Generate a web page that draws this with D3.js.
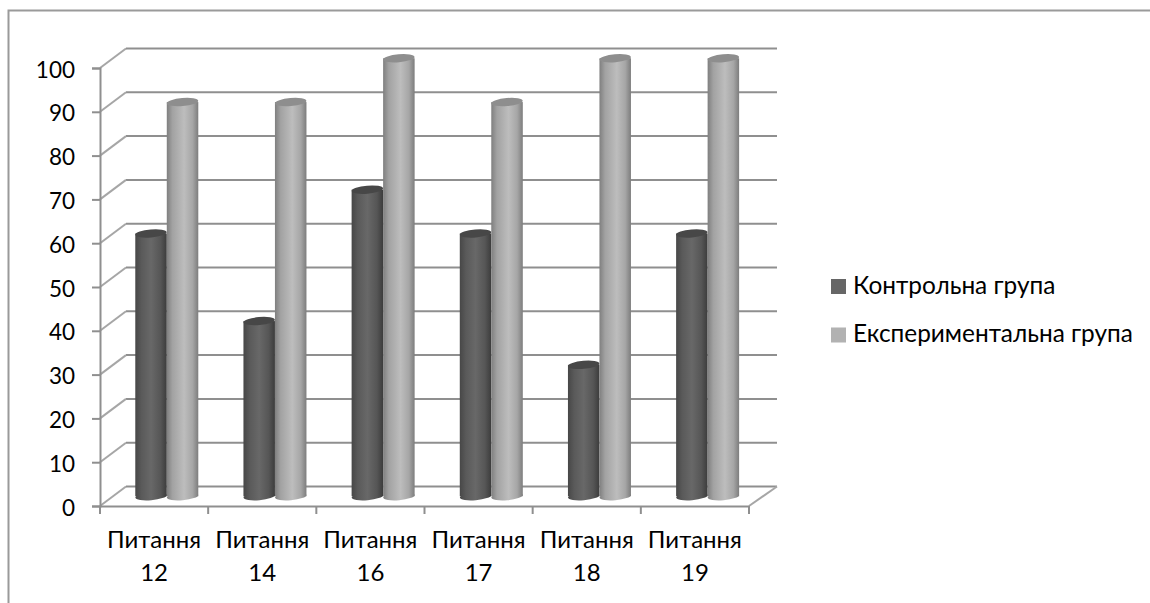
<!DOCTYPE html>
<html>
<head>
<meta charset="utf-8">
<script src="https://cdnjs.cloudflare.com/ajax/libs/d3/7.8.5/d3.min.js"></script>
<style>
html,body{margin:0;padding:0;background:#fff;}
svg{display:block;}
text{font-family:Lato,"Noto Sans",sans-serif;fill:#000;}
</style>
</head>
<body>
<div id="chart"></div>
<script>
const categories = ["12","14","16","17","18","19"];
const questionWord = "Питання";
const seriesNames = ["Контрольна група","Експериментальна група"];
const controlValues = [60,40,70,60,30,60];
const experimentValues = [90,90,100,90,100,100];
const yTicks = [0,10,20,30,40,50,60,70,80,90,100];

const WIDTH = 1150, HEIGHT = 603;
const GRID = "#8f8f8f";
// front plane of the 3d box, and how far the back wall is shifted from it
const FRONT = {left:100,right:749,bottom:506,top:68};
const DEPTH = {x:26,y:-19.5};
const BAR_W = 31.5, BAR_RY = 4, TILT = -5;

let svg = d3.select("#chart").append("svg").attr("width",WIDTH).attr("height",HEIGHT);

let x = d3.scaleBand().domain(categories).range([FRONT.left,FRONT.right]);
let y = d3.scaleLinear().domain([0,100]).range([FRONT.bottom,FRONT.top]);

// outer chart border, only top and left show in the picture
svg.append("path")
    .attr("d","M1150 10.5 L8.5 10.5 L8.5 603")
    .attr("fill","none").attr("stroke","#9a9a9a").attr("stroke-width",2);

// gradients for the cylinders
let defs = svg.append("defs");
let addGradient = function(id,stops){
    let g = defs.append("linearGradient").attr("id",id);
    stops.forEach(function(s){
        g.append("stop").attr("offset",s[0]).attr("stop-color",s[1]);
    });
};
addGradient("barDark",[[0,"#474747"],[0.2,"#5a5a5a"],[0.5,"#686868"],[0.8,"#565656"],[1,"#3c3c3c"]]);
addGradient("barLight",[[0,"#7f7f7f"],[0.18,"#a2a2a2"],[0.55,"#bdbdbd"],[0.82,"#a6a6a6"],[1,"#7d7d7d"]]);

// walls: gridlines on the back, diagonals on the side
let walls = svg.append("g").attr("fill","none").attr("stroke",GRID);
walls.selectAll("line.grid").data(yTicks).join("line").attr("class","grid")
    .attr("x1",FRONT.left+DEPTH.x).attr("x2",FRONT.right+DEPTH.x+2)
    .attr("y1",d => y(d)+DEPTH.y).attr("y2",d => y(d)+DEPTH.y)
    .attr("stroke-width",2);
walls.selectAll("line.side").data(yTicks).join("line").attr("class","side")
    .attr("x1",FRONT.left).attr("x2",FRONT.left+DEPTH.x)
    .attr("y1",d => y(d)).attr("y2",d => y(d)+DEPTH.y)
    .attr("stroke","#a6a6a6").attr("stroke-width",2);
walls.append("line")
    .attr("x1",FRONT.right).attr("x2",FRONT.right+DEPTH.x+2)
    .attr("y1",y(0)).attr("y2",y(0)+DEPTH.y)
    .attr("stroke","#a6a6a6").attr("stroke-width",2);

// axes
let yAxis = d3.axisLeft(y).tickValues(yTicks).tickSize(8).tickPadding(17);
let gy = svg.append("g").attr("transform","translate("+FRONT.left+",0)").call(yAxis);
let xAxis = d3.axisBottom(x).tickSize(0).tickFormat("");
let gx = svg.append("g").attr("transform","translate(0,"+FRONT.bottom+")").call(xAxis);
gx.selectAll(".tick").remove();
d3.range(categories.length+1).forEach(function(i){
    let px = FRONT.left + i*x.bandwidth();
    gx.append("line").attr("x1",px).attr("x2",px).attr("y1",0).attr("y2",8).attr("stroke",GRID).attr("stroke-width",2);
});
[gy,gx].forEach(function(g){
    g.select(".domain").attr("stroke",GRID).attr("stroke-width",2);
    g.selectAll(".tick line").attr("stroke",GRID).attr("stroke-width",2);
});
gy.selectAll(".tick text").attr("font-size",22.5).attr("dy","0.4em").attr("font-family",null).attr("fill","#000");

// category labels, on two lines
let labels = svg.append("g").selectAll("text").data(categories).join("text")
    .attr("text-anchor","middle").attr("font-size",24);
labels.append("tspan").attr("x",d => x(d)+x.bandwidth()/2).attr("y",548).text(questionWord);
labels.append("tspan").attr("x",d => x(d)+x.bandwidth()/2).attr("y",581).text(d => d);

// a single cylinder standing on the middle of the floor
let drawCylinder = function(parent,cx,value,fill,capFill){
    let yTop = y(value)+DEPTH.y/2, yBase = y(0)+DEPTH.y/2;
    let r = BAR_W/2;
    let g = parent.append("g");
    g.append("ellipse").attr("cx",cx).attr("cy",yBase).attr("rx",r).attr("ry",BAR_RY)
        .attr("transform","rotate("+TILT+","+cx+","+yBase+")").attr("fill","url(#"+fill+")");
    g.append("rect").attr("x",cx-r).attr("y",yTop).attr("width",BAR_W).attr("height",yBase-yTop)
        .attr("fill","url(#"+fill+")");
    g.append("ellipse").attr("cx",cx).attr("cy",yTop).attr("rx",r).attr("ry",BAR_RY)
        .attr("transform","rotate("+TILT+","+cx+","+yTop+")").attr("fill",capFill);
};

let bars = svg.append("g");
categories.forEach(function(c,i){
    let mid = x(c)+x.bandwidth()/2+DEPTH.x/2-0.3;
    drawCylinder(bars,mid-BAR_W/2,controlValues[i],"barDark","#474747");
    drawCylinder(bars,mid+BAR_W/2,experimentValues[i],"barLight","#8e8e8e");
});

// legend
let legendColors = ["#666666","#b2b2b2"];
let legendY = d3.scalePoint().domain(seriesNames).range([286.5,335]);
let legend = svg.append("g").selectAll("g").data(seriesNames).join("g")
    .attr("transform",d => "translate(831,"+legendY(d)+")");
legend.append("rect").attr("x",0).attr("y",-7.5).attr("width",15).attr("height",15)
    .attr("fill",(d,i) => legendColors[i]);
legend.append("text").attr("x",22).attr("y",7).attr("font-size",24.4).text(d => d);
</script>
</body>
</html>
